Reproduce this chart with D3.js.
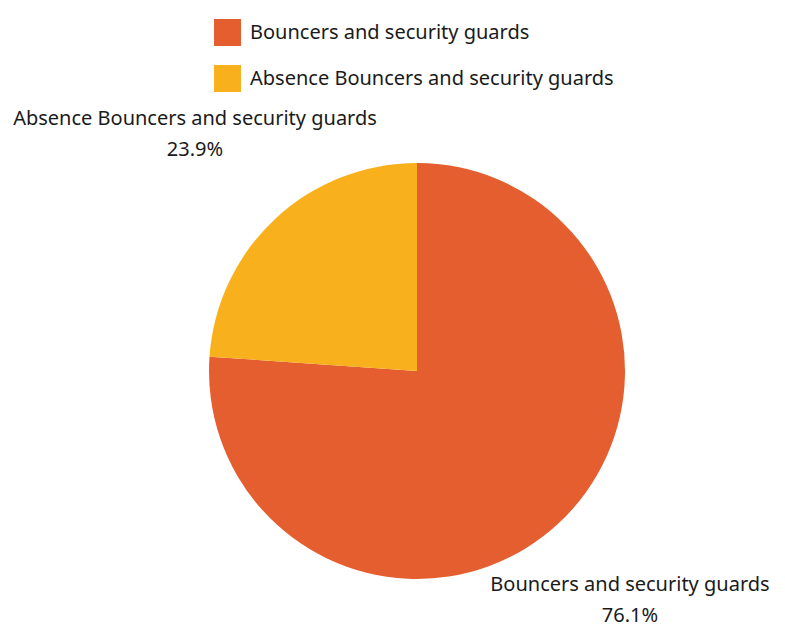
<!DOCTYPE html>
<html><head><meta charset="utf-8">
<script src="https://cdn.jsdelivr.net/npm/d3@7"></script>
<style>body{margin:0;background:#fff}svg{display:block}text{font-family:"Noto Sans",sans-serif;fill:#1a1a1a}</style>
</head><body><svg id="c" width="785" height="628"></svg>
<script>
const categories = ["Bouncers and security guards", "Absence Bouncers and security guards"];
const values = [76.1, 23.9];
const colors = ["#E55E2F", "#F8B11C"];

const svg = d3.select("#c");
const cx = 417, cy = 371, r = 208;
const pie = d3.pie().sort(null).value(d => d)(values);
const arc = d3.arc().innerRadius(0).outerRadius(r);
const g = svg.append("g").attr("transform", `translate(${cx},${cy})`);
g.selectAll("path").data(pie).join("path").attr("d", arc).attr("fill", (d,i)=>colors[i]);

// legend
const leg = svg.append("g");
categories.forEach((c,i)=>{
  const y = 19 + i*46;
  leg.append("rect").attr("x",214).attr("y",y).attr("width",27).attr("height",27).attr("fill",colors[i]);
  leg.append("text").attr("x",250).attr("y",y+20).attr("font-size",20).text(c);
});

// labels
const labelPos = [[630,591],[195,125]];
pie.forEach((d,i)=>{
  const [x,y] = labelPos[i];
  const t = svg.append("text").attr("text-anchor","middle").attr("font-size",20);
  t.append("tspan").attr("x",x).attr("y",y).text(categories[i]);
  t.append("tspan").attr("x",x).attr("y",y+31).text(d3.format(".1f")(values[i])+"%");
});
</script></body></html>
